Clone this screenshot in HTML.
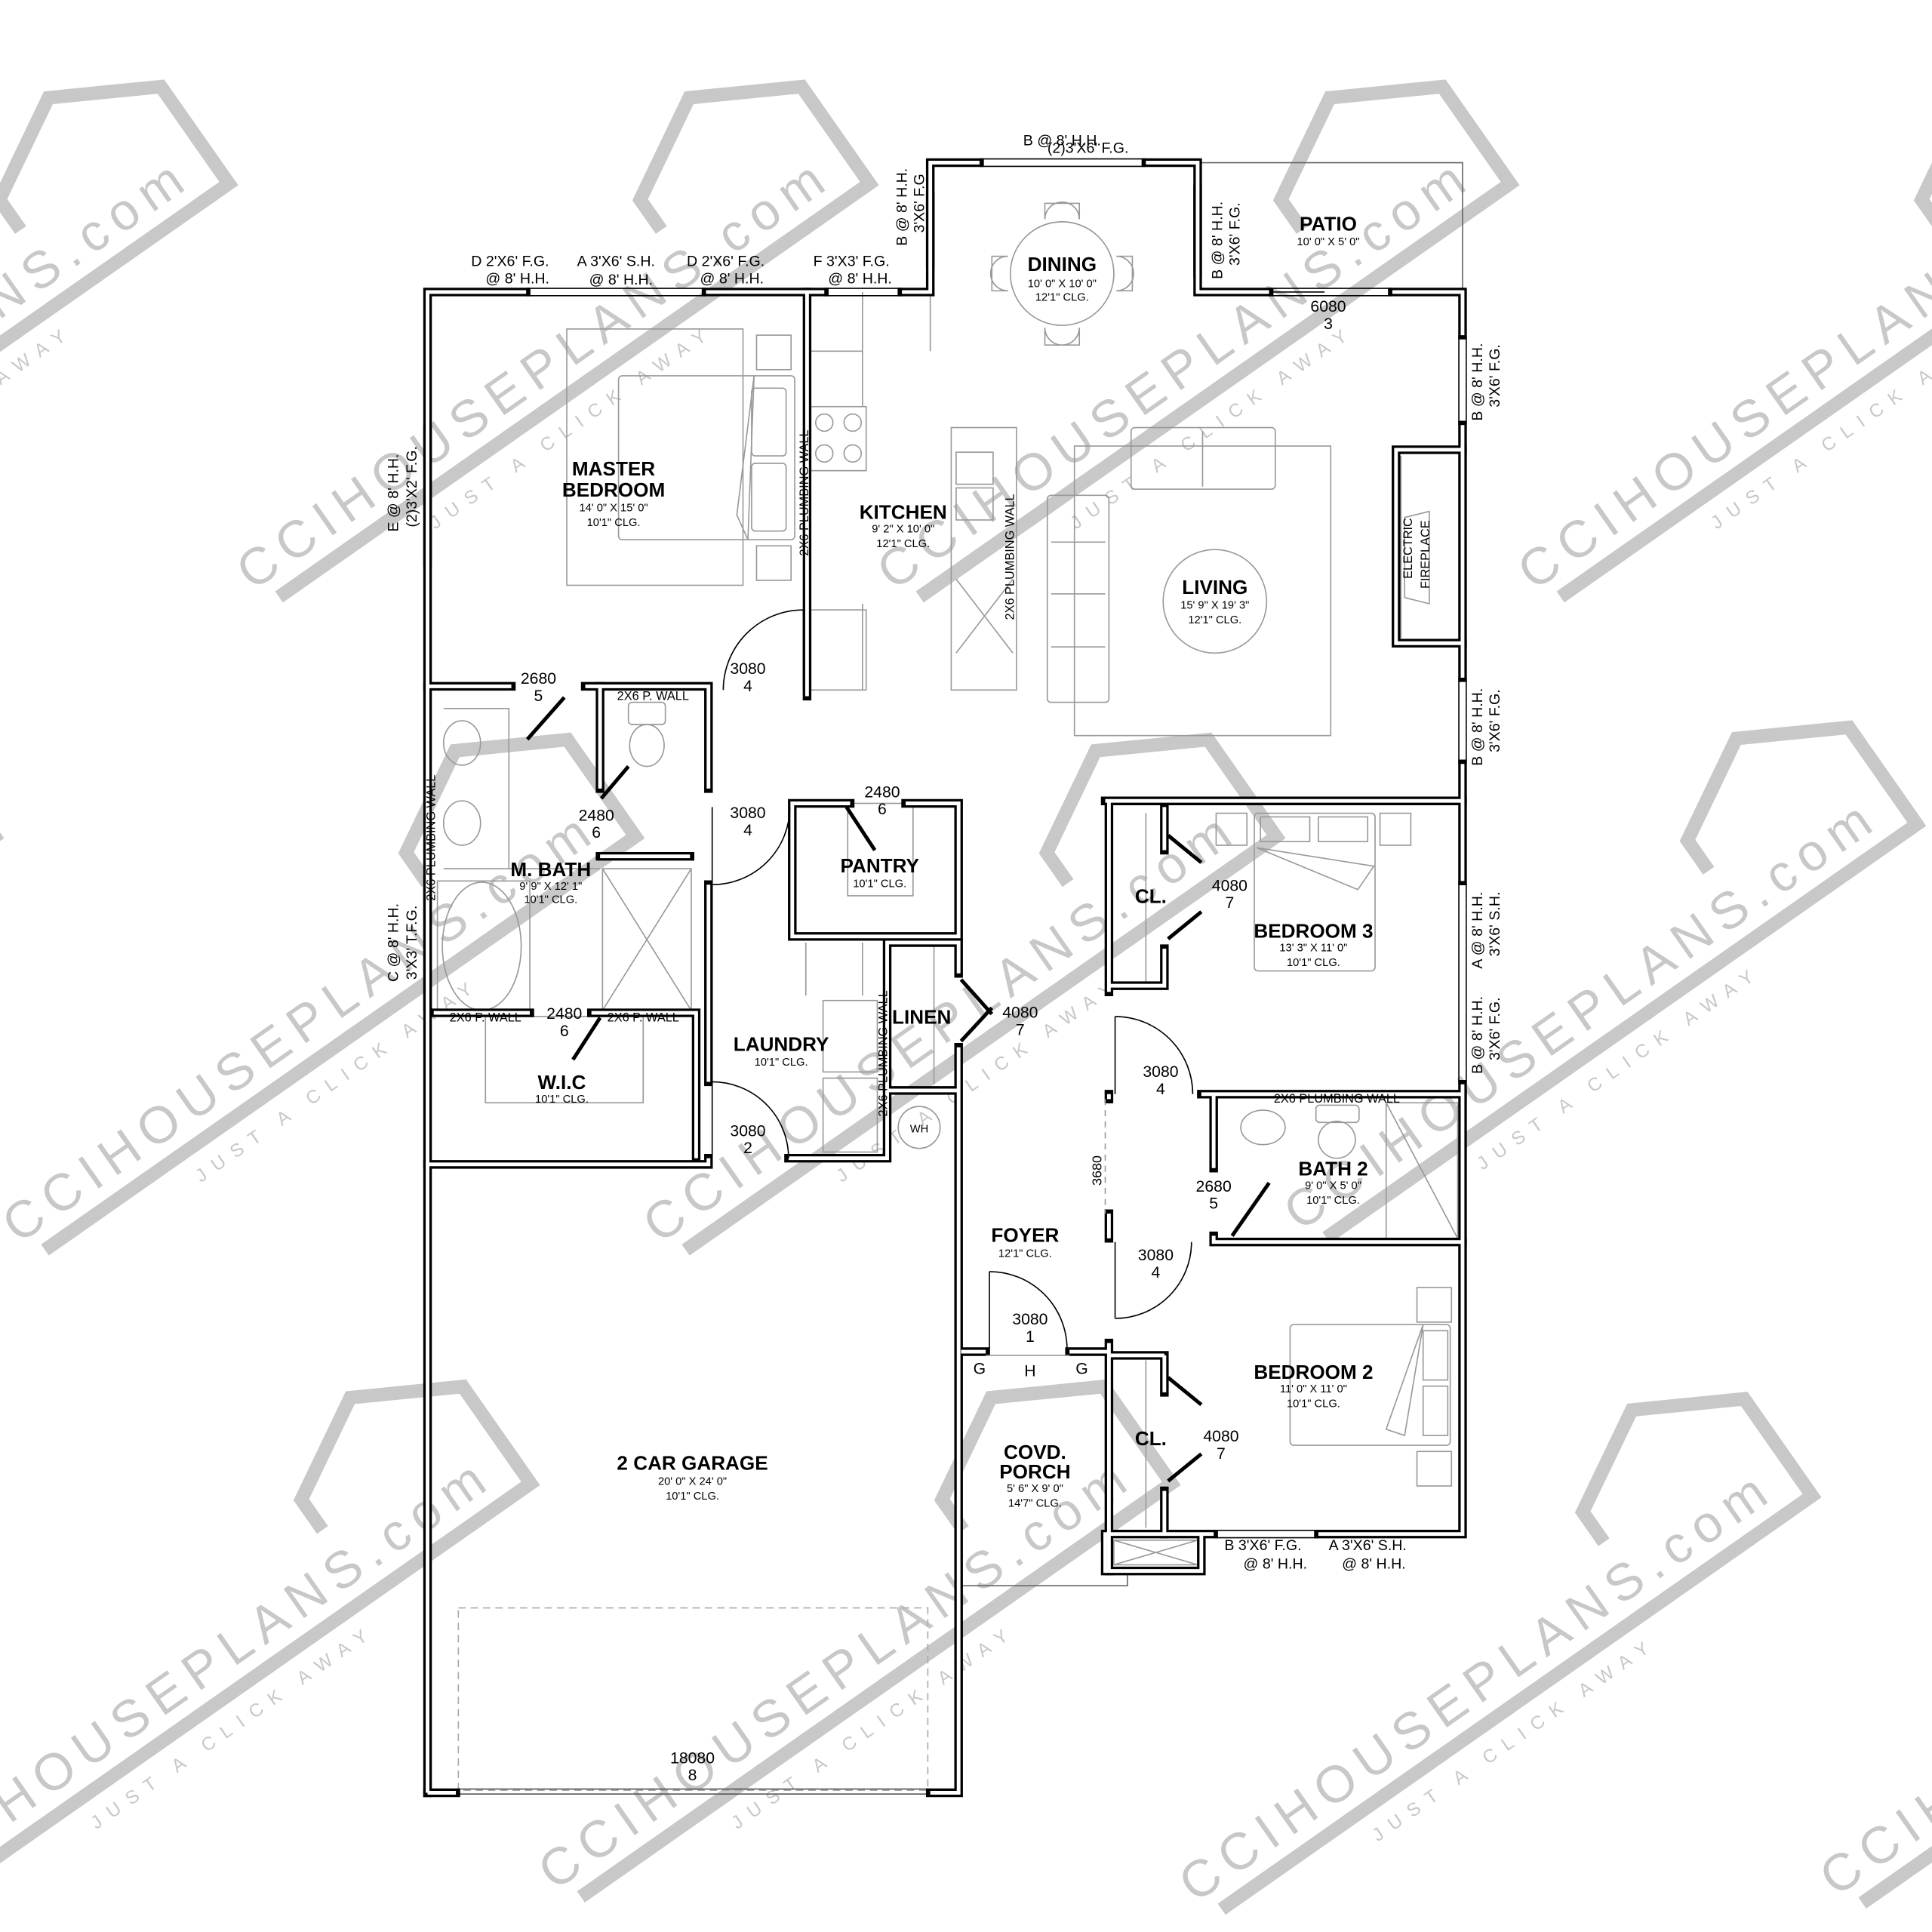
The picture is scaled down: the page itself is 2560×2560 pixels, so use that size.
<!DOCTYPE html>
<html><head><meta charset="utf-8"><style>
html,body{margin:0;padding:0;background:#fff}
svg{display:block}
.t{font-family:"Liberation Sans Narrow","Liberation Sans",sans-serif;fill:#000;text-anchor:middle}
.b{font-weight:bold}
.f{fill:none;stroke:#999;stroke-width:1}
.fd{fill:none;stroke:#666;stroke-width:1}
</style></head><body>
<svg width="2560" height="2560" viewBox="0 0 1568 1568" xmlns="http://www.w3.org/2000/svg">
<rect width="1568" height="1568" fill="#fff"/>

<defs>
<g id="wm">
<text x="0" y="0" font-size="42" textLength="570" lengthAdjust="spacing" fill="#c8c8c8" font-family="Liberation Sans, sans-serif">CCIHOUSEPLANS.com</text>
<polyline points="15,16 600,16 600,-80 520,-125 440,-80 440,-50" fill="none" stroke="#c8c8c8" stroke-width="11"/>
<text x="150" y="44" font-size="15" textLength="270" lengthAdjust="spacing" fill="#c8c8c8" font-family="Liberation Sans, sans-serif">JUST A CLICK AWAY</text>
</g>
<g id="W">
<path d="M347,1455 V237 H427 M573,237 H669 M732,237 H755 V132 H795 M930,132 H972 V237 H1030 M1130,237 H1187 V272 M1187,345 V550 M1187,620 V715 M1187,880 V1245 H1070 M985,1245 H897 V1275 H975 V1245"/>
<path d="M347,557 H415 M475,557 H575 V640 M575,718 V878 M575,940 V945 H347 M655,237 V565"/>
<path d="M487,557 V640 M487,695 H560 M352,822 H430 M480,822 H565 V940"/>
<path d="M690,652 H643 V760 H778 V652 H735"/>
<path d="M640,940 H720 V765 H778 V790 M778,850 V885 H720 M778,885 V1455 H755 M370,1455 H347"/>
<path d="M897,650 H1187 M900,650 V805 M900,888 V892 M900,985 V1005 M900,1090 V1275 M975,888 H1187 M985,888 V948 M985,1003 V1008 H1187 M945,655 V690 M945,770 V800 H900 M945,1100 V1130 M945,1210 V1245 M900,1100 H945 M780,1097 H800 M868,1097 H900"/>
<path d="M1187,365 H1133 V522 H1187"/>
</g>
</defs>
<g>
<use href="#wm" transform="translate(-315,480) rotate(-35)"/>
<use href="#wm" transform="translate(205,480) rotate(-35)"/>
<use href="#wm" transform="translate(725,480) rotate(-35)"/>
<use href="#wm" transform="translate(1245,480) rotate(-35)"/>
<use href="#wm" transform="translate(-505,1010) rotate(-35)"/>
<use href="#wm" transform="translate(15,1010) rotate(-35)"/>
<use href="#wm" transform="translate(535,1010) rotate(-35)"/>
<use href="#wm" transform="translate(1055,1000) rotate(-35)"/>
<use href="#wm" transform="translate(-70,1535) rotate(-35)"/>
<use href="#wm" transform="translate(450,1535) rotate(-35)"/>
<use href="#wm" transform="translate(970,1545) rotate(-35)"/>
<use href="#wm" transform="translate(1490,1540) rotate(-35)"/>
</g>

<path class="fd" d="M972,132 H1187 V237 M780,1287 H915 V1275"/>
<rect x="372" y="1305" width="381" height="148" fill="none" stroke="#aaa" stroke-dasharray="6,4"/>
<path d="M370,1452 H755 M370,1456 H755" stroke="#555" stroke-width="1"/>

<g class="f">
<rect x="460" y="267" width="143" height="208"/>
<rect x="502" y="305" width="143" height="133" rx="3"/>
<path d="M612,305 L598,418 L607,438 Z"/>
<rect x="610" y="315" width="28" height="55" rx="3"/><rect x="610" y="376" width="28" height="55" rx="3"/>
<rect x="614" y="272" width="28" height="28"/><rect x="614" y="443" width="28" height="28"/>
<path d="M700,237 V285 H658 M700,285 V330 M700,490 V560"/>
<rect x="658" y="330" width="45" height="52"/><circle cx="669" cy="343" r="7"/><circle cx="692" cy="343" r="7"/><circle cx="669" cy="368" r="7"/><circle cx="692" cy="368" r="7"/>
<rect x="658" y="495" width="45" height="65"/>
<rect x="772" y="347" width="53" height="213"/>
<rect x="776" y="367" width="30" height="26"/><rect x="776" y="396" width="30" height="26"/>
<path d="M776,470 L822,530 M822,470 L776,530"/>
<circle cx="862" cy="222" r="42" fill="#fff"/>
<path d="M848,178 A14,14 0 0 1 876,178 V165 H848 Z M848,266 A14,14 0 0 0 876,266 V280 H848 Z M818,208 A14,14 0 0 0 818,236 H805 V208 Z M906,208 A14,14 0 0 1 906,236 H919 V208 Z"/>
<path d="M755,240 V285"/>
<rect x="872" y="362" width="208" height="235"/>
<rect x="918" y="347" width="117" height="50" rx="3"/><path d="M976,350 V395"/>
<rect x="850" y="402" width="50" height="168" rx="3"/><path d="M853,440 H897 M853,482 H897 M853,525 H897"/>
<circle cx="986" cy="488" r="42"/>
<path d="M1137,370 V518 M1140,420 L1160,415 V490 L1140,485 Z"/>
<ellipse cx="375" cy="603" rx="15" ry="18"/><ellipse cx="375" cy="668" rx="15" ry="18"/>
<path d="M360,575 H413 V705 M360,705 H487"/>
<ellipse cx="391" cy="768" rx="32" ry="52"/><rect x="355" y="715" width="75" height="105"/>
<rect x="489" y="705" width="72" height="115"/><path d="M489,705 L561,820 M561,705 L489,820"/>
<rect x="510" y="570" width="30" height="18" rx="3"/><ellipse cx="525" cy="605" rx="14" ry="17"/>
<rect x="394" y="825" width="128" height="70"/>
<rect x="688" y="652" width="53" height="75"/>
<path d="M654,765 V808 M700,765 V808"/>
<rect x="668" y="812" width="44" height="58"/><rect x="668" y="875" width="44" height="60"/>
<path d="M758,768 V880"/>
<circle cx="746" cy="915" r="17"/>
<rect x="1018" y="660" width="98" height="128" rx="3"/><rect x="1023" y="663" width="40" height="20"/><rect x="1070" y="663" width="40" height="20"/>
<path d="M1020,688 L1115,703 L1102,722 Z"/>
<rect x="987" y="660" width="25" height="26"/><rect x="1120" y="660" width="25" height="26"/>
<ellipse cx="1025" cy="915" rx="18" ry="14"/><rect x="1068" y="897" width="35" height="14" rx="3"/><ellipse cx="1085" cy="925" rx="15" ry="15"/>
<rect x="1125" y="895" width="58" height="110"/><path d="M1125,895 L1183,1005"/>
<rect x="1047" y="1075" width="130" height="98" rx="3"/><rect x="1155" y="1080" width="20" height="40"/><rect x="1155" y="1125" width="20" height="40"/>
<path d="M1155,1075 L1140,1165 L1125,1160 Z"/>
<rect x="1150" y="1045" width="28" height="28"/><rect x="1150" y="1178" width="28" height="28"/>
<rect x="904" y="1250" width="68" height="20"/><path d="M904,1250 L972,1270 M972,1250 L904,1270"/>
<path d="M930,660 V800 M930,1104 V1240"/>
</g>

<use href="#W" fill="none" stroke="#000" stroke-width="7" stroke-linecap="square" stroke-linejoin="miter"/>
<use href="#W" fill="none" stroke="#fff" stroke-width="3" stroke-linecap="butt" stroke-linejoin="miter"/>

<g stroke="#000" stroke-width="1" fill="none">
<path d="M427,234 H573 M427,240 H573 M669,234 H732 M669,240 H732 M795,129 H930 M795,135 H930 M752,156 V217 M758,156 V217 M969,150 V225 M975,150 V225"/>
<path d="M344,345 V460 M350,345 V460 M344,710 V820 M350,710 V820"/>
<path d="M1184,272 V345 M1190,272 V345 M1184,550 V620 M1190,550 V620 M1184,715 V880 M1190,715 V880 M985,1242 H1070 M985,1248 H1070"/>
<path d="M1030,234 H1130 M1030,240 H1130 M1030,237 H1075"/>
</g>

<g fill="none" stroke="#000" stroke-width="1">
<path d="M652,495 V560 M652,495 A65,65 0 0 0 587,560"/>
<path d="M578,655 V718 M578,718 A63,63 0 0 0 641,655"/>
<path d="M578,878 V940 M578,878 A62,62 0 0 1 640,940"/>
<path d="M905,825 V888 M905,825 A63,63 0 0 1 968,888"/>
<path d="M905,1008 V1070 M905,1070 A62,62 0 0 0 967,1008"/>
<path d="M803,1032 V1094 M803,1032 A63,63 0 0 1 866,1094"/>
<path d="M897,892 V985" stroke="#999" stroke-dasharray="5,4"/>
<path d="M800,1100 H868" stroke="#999"/>
</g>
<g stroke="#000" stroke-width="3" fill="none">
<path d="M458,566 L428,600 M488,648 L510,622 M687,655 L710,690 M487,826 L465,860 M948,678 L975,700 M948,762 L975,740 M948,1118 L975,1140 M948,1202 L975,1180 M780,795 L805,823 M780,845 L805,818 M1000,1003 L1030,960"/>
</g>

<g class="t">
<text x="862" y="118" font-size="12">B @ 8' H.H.</text>
<text x="883" y="124" font-size="12">(2)3'X6' F.G.</text>
<text x="1078" y="187" font-size="16" class="b">PATIO</text>
<text x="1078" y="199" font-size="9">10' 0" X 5' 0"</text>
<text x="414" y="216" font-size="12">D 2'X6' F.G.</text><text x="420" y="230" font-size="12">@ 8' H.H.</text>
<text x="500" y="216" font-size="12">A 3'X6' S.H.</text><text x="504" y="231" font-size="12">@ 8' H.H.</text>
<text x="589" y="216" font-size="12">D 2'X6' F.G.</text><text x="594" y="230" font-size="12">@ 8' H.H.</text>
<text x="691" y="216" font-size="12">F 3'X3' F.G.</text><text x="698" y="230" font-size="12">@ 8' H.H.</text>
<text transform="translate(736,168) rotate(-90)" font-size="12">B @ 8' H.H.</text>
<text transform="translate(750,165) rotate(-90)" font-size="12">3'X6' F.G</text>
<text transform="translate(992,195) rotate(-90)" font-size="12">B @ 8' H.H.</text>
<text transform="translate(1006,190) rotate(-90)" font-size="12">3'X6' F.G.</text>
<text transform="translate(1203,310) rotate(-90)" font-size="12">B @ 8' H.H.</text>
<text transform="translate(1217,305) rotate(-90)" font-size="12">3'X6' F.G.</text>
<text transform="translate(1203,590) rotate(-90)" font-size="12">B @ 8' H.H.</text>
<text transform="translate(1217,585) rotate(-90)" font-size="12">3'X6' F.G.</text>
<text transform="translate(1203,755) rotate(-90)" font-size="12">A @ 8' H.H.</text>
<text transform="translate(1217,750) rotate(-90)" font-size="12">3'X6' S.H.</text>
<text transform="translate(1203,840) rotate(-90)" font-size="12">B @ 8' H.H.</text>
<text transform="translate(1217,835) rotate(-90)" font-size="12">3'X6' F.G.</text>
<text transform="translate(323,400) rotate(-90)" font-size="12">E @ 8' H.H.</text>
<text transform="translate(338,395) rotate(-90)" font-size="12">(2)3'X2' F.G.</text>
<text transform="translate(323,765) rotate(-90)" font-size="12">C @ 8' H.H.</text>
<text transform="translate(338,765) rotate(-90)" font-size="12">3'X3' T.F.G.</text>
<text x="1025" y="1258" font-size="12">B 3'X6' F.G.</text><text x="1035" y="1273" font-size="12">@ 8' H.H.</text>
<text x="1110" y="1258" font-size="12">A 3'X6' S.H.</text><text x="1115" y="1273" font-size="12">@ 8' H.H.</text>

<text x="498" y="386" font-size="16" class="b">MASTER</text><text x="498" y="403" font-size="16" class="b">BEDROOM</text>
<text x="498" y="415" font-size="9">14' 0" X 15' 0"</text><text x="498" y="427" font-size="9">10'1" CLG.</text>
<text x="733" y="421" font-size="16" class="b">KITCHEN</text><text x="733" y="432" font-size="9">9' 2" X 10' 0"</text><text x="733" y="444" font-size="9">12'1" CLG.</text>
<text x="862" y="220" font-size="16" class="b">DINING</text><text x="862" y="233" font-size="9">10' 0" X 10' 0"</text><text x="862" y="244" font-size="9">12'1" CLG.</text>
<text x="986" y="482" font-size="16" class="b">LIVING</text><text x="986" y="494" font-size="9">15' 9" X 19' 3"</text><text x="986" y="506" font-size="9">12'1" CLG.</text>
<text x="447" y="711" font-size="16" class="b">M. BATH</text><text x="447" y="722" font-size="9">9' 9" X 12' 1"</text><text x="447" y="733" font-size="9">10'1" CLG.</text>
<text x="714" y="708" font-size="16" class="b">PANTRY</text><text x="714" y="720" font-size="9">10'1" CLG.</text>
<text x="634" y="853" font-size="16" class="b">LAUNDRY</text><text x="634" y="865" font-size="9">10'1" CLG.</text>
<text x="748" y="831" font-size="16" class="b">LINEN</text>
<text x="456" y="884" font-size="16" class="b">W.I.C</text><text x="456" y="895" font-size="9">10'1" CLG.</text>
<text x="1066" y="761" font-size="16" class="b">BEDROOM 3</text><text x="1066" y="772" font-size="9">13' 3" X 11' 0"</text><text x="1066" y="784" font-size="9">10'1" CLG.</text>
<text x="934" y="733" font-size="16" class="b">CL.</text><text x="934" y="1173" font-size="16" class="b">CL.</text>
<text x="1082" y="954" font-size="16" class="b">BATH 2</text><text x="1082" y="965" font-size="9">9' 0" X 5' 0"</text><text x="1082" y="977" font-size="9">10'1" CLG.</text>
<text x="832" y="1008" font-size="16" class="b">FOYER</text><text x="832" y="1020" font-size="9">12'1" CLG.</text>
<text x="1066" y="1119" font-size="16" class="b">BEDROOM 2</text><text x="1066" y="1130" font-size="9">11' 0" X 11' 0"</text><text x="1066" y="1142" font-size="9">10'1" CLG.</text>
<text x="840" y="1184" font-size="16" class="b">COVD.</text><text x="840" y="1200" font-size="16" class="b">PORCH</text><text x="840" y="1211" font-size="9">5' 6" X 9' 0"</text><text x="840" y="1223" font-size="9">14'7" CLG.</text>
<text x="562" y="1193" font-size="16" class="b">2 CAR GARAGE</text><text x="562" y="1205" font-size="9">20' 0" X 24' 0"</text><text x="562" y="1217" font-size="9">10'1" CLG.</text>

<g font-size="13">
<text x="437" y="555">2680</text><text x="437" y="569">5</text>
<text x="607" y="547">3080</text><text x="607" y="561">4</text>
<text x="484" y="666">2480</text><text x="484" y="680">6</text>
<text x="607" y="664">3080</text><text x="607" y="678">4</text>
<text x="716" y="647">2480</text><text x="716" y="661">6</text>
<text x="998" y="723">4080</text><text x="998" y="737">7</text>
<text x="828" y="826">4080</text><text x="828" y="840">7</text>
<text x="458" y="827">2480</text><text x="458" y="841">6</text>
<text x="942" y="874">3080</text><text x="942" y="888">4</text>
<text x="607" y="922">3080</text><text x="607" y="936">2</text>
<text x="985" y="967">2680</text><text x="985" y="981">5</text>
<text x="938" y="1023">3080</text><text x="938" y="1037">4</text>
<text x="836" y="1075">3080</text><text x="836" y="1089">1</text>
<text x="991" y="1170">4080</text><text x="991" y="1184">7</text>
<text x="1078" y="253">6080</text><text x="1078" y="267">3</text>
<text x="562" y="1431">18080</text><text x="562" y="1445">8</text>
<text x="795" y="1115">G</text><text x="836" y="1117">H</text><text x="878" y="1115">G</text>
</g>
<text transform="translate(894,950) rotate(-90)" font-size="11">3680</text>
<text x="746" y="919" font-size="9">WH</text>
<g font-size="10">
<text transform="translate(656,400) rotate(-90)">2X6  PLUMBING  WALL</text>
<text transform="translate(823,452) rotate(-90)">2X6  PLUMBING  WALL</text>
<text transform="translate(353,680) rotate(-90)">2X6  PLUMBING  WALL</text>
<text transform="translate(720,855) rotate(-90)">2X6  PLUMBING  WALL</text>
<text x="1085" y="895">2X6  PLUMBING  WALL</text>
<text x="530" y="568">2X6  P.  WALL</text>
<text x="394" y="829">2X6  P.  WALL</text>
<text x="522" y="829">2X6  P.  WALL</text>
<text transform="translate(1146,445) rotate(-90)">ELECTRIC</text>
<text transform="translate(1160,450) rotate(-90)">FIREPLACE</text>
</g>
</g>
</svg>
</body></html>
